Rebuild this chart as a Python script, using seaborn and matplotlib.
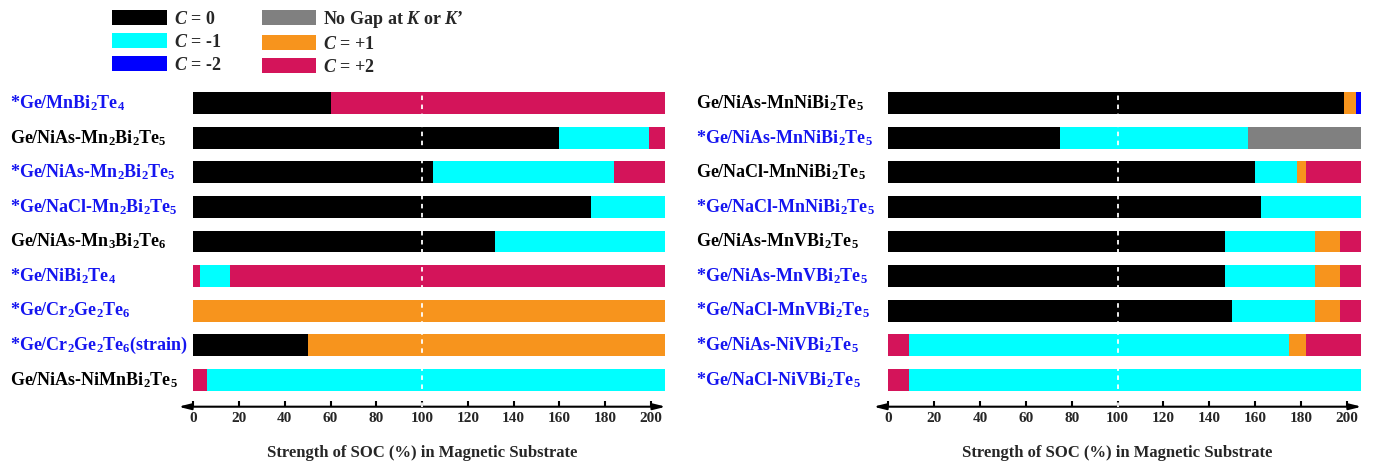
import matplotlib
matplotlib.use("Agg")
import matplotlib.pyplot as plt
import pandas as pd
import seaborn as sns
from matplotlib.patches import Patch
from matplotlib.transforms import blended_transform_factory

# Topological states and their colours
STATES = ["C=0", "C=-1", "C=-2", "NoGap", "C=+1", "C=+2"]
STATE_COLORS = {
    "C=0": "#000000",
    "C=-1": "#00FFFF",
    "C=-2": "#0000FF",
    "NoGap": "#808080",
    "C=+1": "#F7941D",
    "C=+2": "#D4145A",
}
LEGEND_LABELS = [
    r"$\mathit{C}$ = 0",
    r"$\mathit{C}$ = -1",
    r"$\mathit{C}$ = -2",
    r"No Gap at $\mathit{K}$ or $\mathit{K}$’",
    r"$\mathit{C}$ = +1",
    r"$\mathit{C}$ = +2",
]

# Left panel: heterostructures, segment end points (SOC %) and states
left_materials = [
    "*Ge/MnBi$_2$Te$_4$",
    "Ge/NiAs-Mn$_2$Bi$_2$Te$_5$",
    "*Ge/NiAs-Mn$_2$Bi$_2$Te$_5$",
    "*Ge/NaCl-Mn$_2$Bi$_2$Te$_5$",
    "Ge/NiAs-Mn$_3$Bi$_2$Te$_6$",
    "*Ge/NiBi$_2$Te$_4$",
    "*Ge/Cr$_2$Ge$_2$Te$_6$",
    "*Ge/Cr$_2$Ge$_2$Te$_6$(strain)",
    "Ge/NiAs-NiMnBi$_2$Te$_5$",
]
left_ends = [
    [60, 206],
    [160, 199, 206],
    [105, 184, 206],
    [174, 206],
    [132, 206],
    [3, 16, 206],
    [206],
    [50, 206],
    [6, 206],
]
left_states = [
    ["C=0", "C=+2"],
    ["C=0", "C=-1", "C=+2"],
    ["C=0", "C=-1", "C=+2"],
    ["C=0", "C=-1"],
    ["C=0", "C=-1"],
    ["C=+2", "C=-1", "C=+2"],
    ["C=+1"],
    ["C=0", "C=+1"],
    ["C=+2", "C=-1"],
]

# Right panel
right_materials = [
    "Ge/NiAs-MnNiBi$_2$Te$_5$",
    "*Ge/NiAs-MnNiBi$_2$Te$_5$",
    "Ge/NaCl-MnNiBi$_2$Te$_5$",
    "*Ge/NaCl-MnNiBi$_2$Te$_5$",
    "Ge/NiAs-MnVBi$_2$Te$_5$",
    "*Ge/NiAs-MnVBi$_2$Te$_5$",
    "*Ge/NaCl-MnVBi$_2$Te$_5$",
    "*Ge/NiAs-NiVBi$_2$Te$_5$",
    "*Ge/NaCl-NiVBi$_2$Te$_5$",
]
right_ends = [
    [199, 204, 206],
    [75, 157, 206],
    [160, 178.5, 182, 206],
    [162.5, 206],
    [147, 186, 197, 206],
    [147, 186, 197, 206],
    [150, 186, 197, 206],
    [9, 175, 182, 206],
    [9, 206],
]
right_states = [
    ["C=0", "C=+1", "C=-2"],
    ["C=0", "C=-1", "NoGap"],
    ["C=0", "C=-1", "C=+1", "C=+2"],
    ["C=0", "C=-1"],
    ["C=0", "C=-1", "C=+1", "C=+2"],
    ["C=0", "C=-1", "C=+1", "C=+2"],
    ["C=0", "C=-1", "C=+1", "C=+2"],
    ["C=+2", "C=-1", "C=+1", "C=+2"],
    ["C=+2", "C=-1"],
]

x_ticks = list(range(0, 201, 20))

sns.set_theme(style="white")
plt.rcParams["font.family"] = ["Liberation Serif", "DejaVu Serif"]
plt.rcParams["font.weight"] = "bold"
plt.rcParams["mathtext.fontset"] = "custom"
plt.rcParams["mathtext.rm"] = "Liberation Serif:bold"
plt.rcParams["mathtext.it"] = "Liberation Serif:italic:bold"
plt.rcParams["mathtext.bf"] = "Liberation Serif:bold"
plt.rcParams["mathtext.default"] = "rm"

fig = plt.figure(figsize=(13.75, 4.62), dpi=100)
ax_l = fig.add_axes([0.1297, 0.1197, 0.3545, 0.7016])
ax_r = fig.add_axes([0.6352, 0.1197, 0.3551, 0.7016])


def draw_panel(ax, materials, ends, states, label_x):
    rows = []
    for name, e, s in zip(materials, ends, states):
        for k, (end, st) in enumerate(zip(e, s)):
            rows.append(dict(material=name, layer=k, end=end, state=st))
    df = pd.DataFrame(rows)
    # stack by drawing cumulative bars from the outermost segment inwards
    for k in sorted(df["layer"].unique(), reverse=True):
        sub = df[df["layer"] == k]
        sns.barplot(
            data=sub, x="end", y="material", hue="state",
            order=materials, hue_order=STATES, palette=STATE_COLORS,
            dodge=False, width=0.635, saturation=1, legend=False,
            errorbar=None, orient="h", linewidth=0, ax=ax,
        )
    ax.axvline(100, color="white", lw=1.3, ls=(0, (2.5, 2.5)), zorder=5)

    ax.set_xlim(-6.5, 206.5)
    ax.set_ylim(8.78, -0.6)
    ax.set_xticks(x_ticks)
    ax.set_xticklabels([str(t) for t in x_ticks], fontsize=11, fontweight="bold")
    ax.tick_params(axis="x", direction="in", length=4, width=1.5, color="black",
                   pad=4, bottom=True)
    ax.tick_params(axis="y", left=False, labelleft=False)
    for side in ["top", "right", "left", "bottom"]:
        ax.spines[side].set_visible(False)
    ax.set_ylabel("")
    ax.set_xlabel("Strength of SOC (%) in Magnetic Substrate", fontsize=12,
                  fontweight="bold", labelpad=14)
    ax.annotate("", xy=(0, 0), xytext=(1, 0), xycoords="axes fraction",
                textcoords="axes fraction",
                arrowprops=dict(arrowstyle="<|-|>,head_length=0.6,head_width=0.15",
                                color="black", lw=1.5, shrinkA=0, shrinkB=0),
                annotation_clip=False)

    trans = blended_transform_factory(fig.transFigure, ax.transData)
    for i, name in enumerate(materials):
        color = "#1515F0" if name.startswith("*") else "black"
        ax.text(label_x, i, name, transform=trans, ha="left", va="center",
                fontsize=13, fontweight="bold", color=color)


draw_panel(ax_l, left_materials, left_ends, left_states, 10 / 1375)
draw_panel(ax_r, right_materials, right_ends, right_states, 696 / 1375)

handles = [Patch(facecolor=STATE_COLORS[s], edgecolor="none") for s in STATES]
fig.legend(handles, LEGEND_LABELS, ncol=2, loc="upper left",
           bbox_to_anchor=(112 / 1375, 1 - 9 / 462), frameon=False,
           fontsize=13, handlelength=3.03, handleheight=0.92,
           handletextpad=0.4, labelspacing=0.28, columnspacing=2.22,
           borderpad=0, borderaxespad=0)

fig.savefig("out.png", dpi=100)
